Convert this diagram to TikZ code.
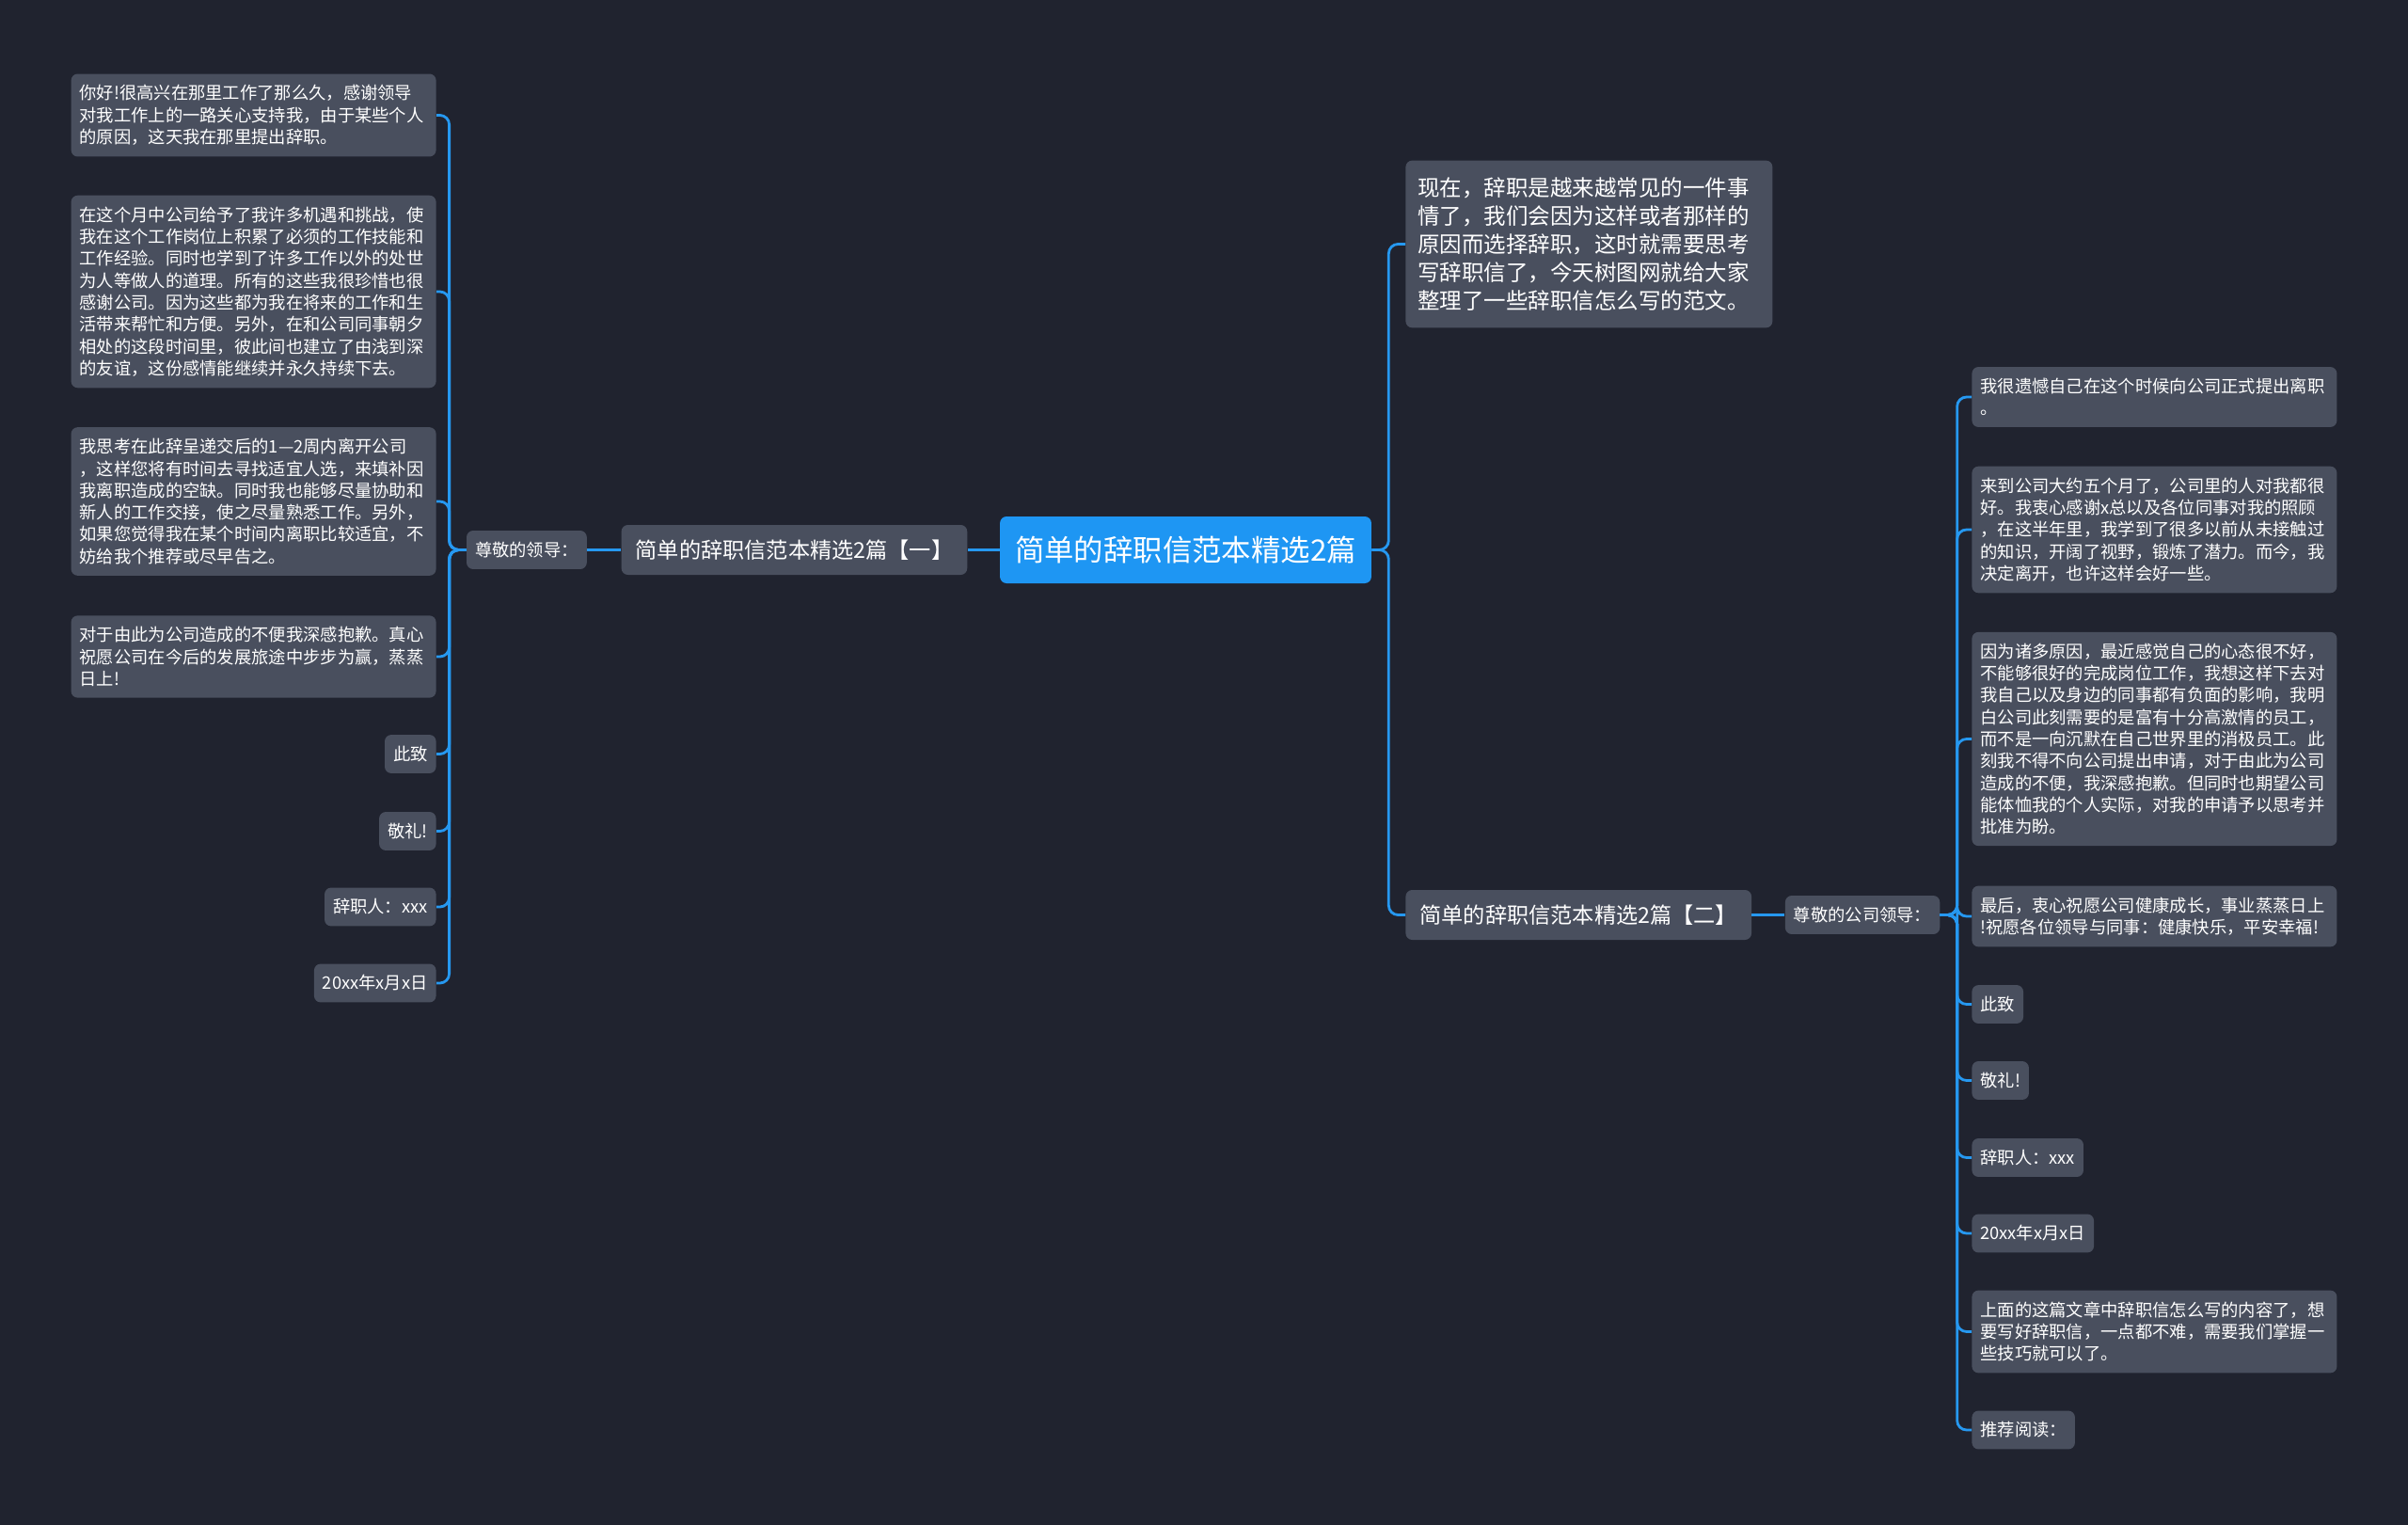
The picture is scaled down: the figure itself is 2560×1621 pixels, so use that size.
\documentclass[tikz,border=0pt]{standalone}
\usepackage{fontspec}
\setmainfont{Noto Sans CJK SC}
\usetikzlibrary{positioning}
\definecolor{mapBg}{RGB}{32,35,47}
\definecolor{mapNode}{RGB}{73,79,94}
\definecolor{mapRoot}{RGB}{30,150,243}
\definecolor{mapLine}{RGB}{38,152,240}
\tikzset{
	leaf/.style={rectangle, fill=mapNode, rounded corners=3.5pt, text=white,
		font=\fontsize{9.15pt}{11.65pt}\selectfont, inner xsep=4.5pt, inner ysep=6pt,
		minimum height=20pt},
	para/.style={leaf, text width=185pt, align=left},
	branch/.style={leaf, font=\fontsize{11.6pt}{15pt}\selectfont, inner xsep=7.5pt,
		minimum height=26.5pt},
	rootbox/.style={rectangle, fill=mapRoot, rounded corners=3.5pt, text=white,
		font=\fontsize{15.7pt}{18pt}\selectfont, inner xsep=8pt, minimum height=35.5pt},
	link/.style={draw=mapLine, line width=1.4pt, rounded corners=5pt}
}

\begin{document}
\begin{tikzpicture}[x=0.5pt, y=-0.5pt]
	\useasboundingbox (0,0) rectangle (2560,1621);
	\fill[mapBg] (0,0) rectangle (2560,1621);
	% centre and first letter
	\node[rootbox] (root) at (1260.5,584.5) {简单的辞职信范本精选2篇};
	\node[branch, left=17pt of root] (one) {简单的辞职信范本精选2篇【一】};
	\node[leaf, left=18pt of one] (dear1) {尊敬的领导：};
	\node[para, anchor=east] (l1) at (464,122.5) {你好!很高兴在那里工作了那么久，感谢领导\\对我工作上的一路关心支持我，由于某些个人\\的原因，这天我在那里提出辞职。};
	\node[para, anchor=east] (l2) at (464,310) {在这个月中公司给予了我许多机遇和挑战，使\\我在这个工作岗位上积累了必须的工作技能和\\工作经验。同时也学到了许多工作以外的处世\\为人等做人的道理。所有的这些我很珍惜也很\\感谢公司。因为这些都为我在将来的工作和生\\活带来帮忙和方便。另外，在和公司同事朝夕\\相处的这段时间里，彼此间也建立了由浅到深\\的友谊，这份感情能继续并永久持续下去。};
	\node[para, anchor=east] (l3) at (464,533) {我思考在此辞呈递交后的1—2周内离开公司\\，这样您将有时间去寻找适宜人选，来填补因\\我离职造成的空缺。同时我也能够尽量协助和\\新人的工作交接，使之尽量熟悉工作。另外，\\如果您觉得我在某个时间内离职比较适宜，不\\妨给我个推荐或尽早告之。};
	\node[para, anchor=east] (l4) at (464,698) {对于由此为公司造成的不便我深感抱歉。真心\\祝愿公司在今后的发展旅途中步步为赢，蒸蒸\\日上!};
	\node[leaf, anchor=east] (l5) at (464,801.5) {此致};
	\node[leaf, anchor=east] (l6) at (464,883.5) {敬礼!};
	\node[leaf, anchor=east] (l7) at (464,964) {辞职人：xxx};
	\node[leaf, anchor=east] (l8) at (464,1045) {20xx年x月x日};
	% intro and second letter
	\node[leaf, text width=182pt, align=left, font=\fontsize{11.75pt}{15pt}\selectfont,
		inner xsep=6.5pt, inner ysep=9pt, anchor=west] (intro) at (1494,259.5) {现在，辞职是越来越常见的一件事\\情了，我们会因为这样或者那样的\\原因而选择辞职，这时就需要思考\\写辞职信了，今天树图网就给大家\\整理了一些辞职信怎么写的范文。};
	\node[branch, anchor=west] (two) at (1494,972.5) {简单的辞职信范本精选2篇【二】};
	\node[leaf, right=17.5pt of two] (dear2) {尊敬的公司领导：};
	\node[para, anchor=west] (r1) at (2096,422) {我很遗憾自己在这个时候向公司正式提出离职\\。};
	\node[para, anchor=west] (r2) at (2096,563) {来到公司大约五个月了，公司里的人对我都很\\好。我衷心感谢x总以及各位同事对我的照顾\\，在这半年里，我学到了很多以前从未接触过\\的知识，开阔了视野，锻炼了潜力。而今，我\\决定离开，也许这样会好一些。};
	\node[para, anchor=west] (r3) at (2096,785.5) {因为诸多原因，最近感觉自己的心态很不好，\\不能够很好的完成岗位工作，我想这样下去对\\我自己以及身边的同事都有负面的影响，我明\\白公司此刻需要的是富有十分高激情的员工，\\而不是一向沉默在自己世界里的消极员工。此\\刻我不得不向公司提出申请，对于由此为公司\\造成的不便，我深感抱歉。但同时也期望公司\\能体恤我的个人实际，对我的申请予以思考并\\批准为盼。};
	\node[para, anchor=west] (r4) at (2096,974) {最后，衷心祝愿公司健康成长，事业蒸蒸日上\\!祝愿各位领导与同事：健康快乐，平安幸福!};
	\node[leaf, anchor=west] (r5) at (2096,1067.5) {此致};
	\node[leaf, anchor=west] (r6) at (2096,1148.5) {敬礼!};
	\node[leaf, anchor=west] (r7) at (2096,1230.5) {辞职人：xxx};
	\node[leaf, anchor=west] (r8) at (2096,1311) {20xx年x月x日};
	\node[para, anchor=west] (r9) at (2096,1415.5) {上面的这篇文章中辞职信怎么写的内容了，想\\要写好辞职信，一点都不难，需要我们掌握一\\些技巧就可以了。};
	\node[leaf, anchor=west] (r10) at (2096,1520) {推荐阅读：};
	% connectors
	\draw[link] (root.west) -- (one.east);
	\draw[link] (one.west) -- (dear1.east);
	\foreach \i in {1,...,8}
		\draw[link] (dear1.west) -- ++(-18,0) |- (l\i.east);
	\foreach \n in {intro,two}
		\draw[link] (root.east) -- ++(18,0) |- (\n.west);
	\draw[link] (two.east) -- (dear2.west);
	\foreach \i in {1,...,10}
		\draw[link] (dear2.east) -- ++(18,0) |- (r\i.west);
\end{tikzpicture}
\end{document}
